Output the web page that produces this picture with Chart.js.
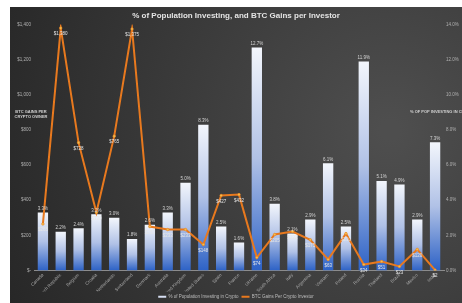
<!DOCTYPE html>
<html lang="en">
<head>
<meta charset="UTF-8" />
<title>% of Population Investing, and BTC Gains per Investor</title>
<script src="https://cdn.jsdelivr.net/npm/chart.js"></script>
<style>
  * { margin: 0; padding: 0; box-sizing: border-box; }
  html, body { width: 462px; height: 303px; background: #fff; overflow: hidden; }
</style>
</head>
<body>
<canvas id="chart" width="462" height="303"></canvas>
<script>
  // values
  const countries = [
    'Canada', 'Czech Republic', 'Belgium', 'Croatia', 'Netherlands', 'Switzerland',
    'Denmark', 'Australia', 'United Kingdom', 'United States', 'Spain', 'France',
    'Ukraine', 'South Africa', 'Italy', 'Argentina', 'Vietnam', 'Poland',
    'Russia', 'Thailand', 'Brazil', 'Mexico', 'India'
  ];
  const pctInvesting = [3.3, 2.2, 2.4, 3.2, 3.0, 1.8, 2.6, 3.3, 5.0, 8.3, 2.5, 1.6,
                        12.7, 3.8, 2.1, 2.9, 6.1, 2.5, 11.9, 5.1, 4.9, 2.9, 7.3];
  const btcGains = [265, 1380, 728, 330, 765, 1375, 250, 233, 233, 148, 427, 432,
                    74, 205, 222, 175, 63, 210, 34, 51, 23, 120, 2];

  const FONT = '"Liberation Sans", Arial, sans-serif';

  const background = {
    id: 'background',
    beforeDraw(chart) {
      const ctx = chart.ctx;
      ctx.save();
      ctx.fillStyle = '#fff';
      ctx.fillRect(0, 0, chart.width, chart.height);
      const g = ctx.createRadialGradient(390, 130, 10, 390, 130, 430);
      g.addColorStop(0, '#4e4e4e');
      g.addColorStop(1, '#262626');
      ctx.fillStyle = g;
      ctx.fillRect(10, 7, chart.width - 10, chart.height - 7);
      ctx.restore();
    }
  };

  const valueLabels = {
    id: 'valueLabels',
    afterDatasetsDraw(chart) {
      const ctx = chart.ctx;
      ctx.save();
      ctx.font = '4.5px ' + FONT;
      ctx.textAlign = 'center';
      ctx.textBaseline = 'middle';
      ctx.fillStyle = '#d4d4d4';
      chart.getDatasetMeta(0).data.forEach((bar, i) => {
        ctx.fillText(pctInvesting[i].toFixed(1) + '%', bar.x, bar.y - 4);
      });
      ctx.fillStyle = '#e6e6e6';
      chart.getDatasetMeta(1).data.forEach((pt, i) => {
        ctx.fillText('$' + btcGains[i].toLocaleString('en-US'), pt.x, pt.y + 6);
      });

      // horizontal axis titles, as in the original
      ctx.font = 'bold 4px ' + FONT;
      ctx.fillStyle = '#d0d0d0';
      ctx.fillText('BTC GAINS PER', 31, 112);
      ctx.fillText('CRYPTO OWNER', 31, 117);
      ctx.textAlign = 'left';
      ctx.fillText('% OF POP INVESTING IN CRYPTO', 410, 112);
      ctx.restore();
    }
  };

  function barGradient(c) {
    const chart = c.chart;
    if (!chart.chartArea || c.type !== 'data') return '#b3c3e8';
    const y = chart.scales.y1;
    const top = y.getPixelForValue(c.raw);
    const base = y.getPixelForValue(0);
    const g = chart.ctx.createLinearGradient(0, top, 0, base);
    g.addColorStop(0, '#f3f6fc');
    g.addColorStop(0.5, '#b0c1e6');
    g.addColorStop(1, '#2d62c6');
    return g;
  }

  new Chart(document.getElementById('chart'), {
    data: {
      labels: countries,
      datasets: [
        {
          type: 'bar',
          label: '% of Population Investing in Crypto',
          data: pctInvesting,
          yAxisID: 'y1',
          backgroundColor: barGradient,
          barPercentage: 0.58,
          categoryPercentage: 1,
          order: 1
        },
        {
          type: 'line',
          label: 'BTC Gains Per Crypto Investor',
          data: btcGains,
          yAxisID: 'y',
          borderColor: '#e8791e',
          borderWidth: 2,
          pointRadius: 1.3,
          pointBackgroundColor: '#f2c14e',
          pointBorderColor: '#e8791e',
          pointBorderWidth: 0.5,
          tension: 0,
          order: 0
        }
      ]
    },
    options: {
      responsive: false,
      animation: false,
      devicePixelRatio: 1,
      layout: { padding: { left: 12, right: 2, top: 7, bottom: -6 } },
      plugins: {
        title: {
          display: true,
          text: '% of Population Investing, and BTC Gains per Investor',
          color: '#e4e4e4',
          font: { family: FONT, size: 8, weight: 'bold' },
          padding: { top: 4, bottom: 4 }
        },
        legend: {
          position: 'bottom',
          labels: {
            color: '#bdbdbd',
            font: { family: FONT, size: 4.5 },
            boxWidth: 8,
            boxHeight: 2,
            padding: 3,
            generateLabels: () => [
              { text: '% of Population Investing in Crypto', fillStyle: '#d6def2', strokeStyle: '#d6def2', lineWidth: 0, fontColor: '#bdbdbd', datasetIndex: 0 },
              { text: 'BTC Gains Per Crypto Investor', fillStyle: '#e8791e', strokeStyle: '#e8791e', lineWidth: 0, fontColor: '#bdbdbd', datasetIndex: 1 }
            ]
          }
        },
        tooltip: { enabled: false }
      },
      scales: {
        x: {
          grid: { display: false, drawTicks: false },
          border: { color: '#8c8c8c', width: 1 },
          afterFit: s => { s.height = 21; },
          ticks: {
            color: '#a8a8a8',
            font: { family: FONT, size: 4.5 },
            autoSkip: false,
            maxRotation: 45,
            minRotation: 45,
            padding: 2
          }
        },
        y: {
          position: 'left',
          min: 0,
          max: 1400,
          grid: { display: false, drawTicks: false },
          border: { display: false },
          afterFit: s => { s.width = 22; },
          ticks: {
            stepSize: 200,
            color: '#b0b0b0',
            font: { family: FONT, size: 4.5 },
            padding: 3,
            callback: v => v === 0 ? '$-' : '$' + v.toLocaleString('en-US')
          }
        },
        y1: {
          position: 'right',
          min: 0,
          max: 14,
          grid: { display: false, drawTicks: false },
          border: { display: false },
          afterFit: s => { s.width = 16; },
          ticks: {
            stepSize: 2,
            color: '#b0b0b0',
            font: { family: FONT, size: 4.5 },
            padding: 2,
            callback: v => v.toFixed(1) + '%'
          }
        }
      }
    },
    plugins: [background, valueLabels]
  });
</script>
</body>
</html>
